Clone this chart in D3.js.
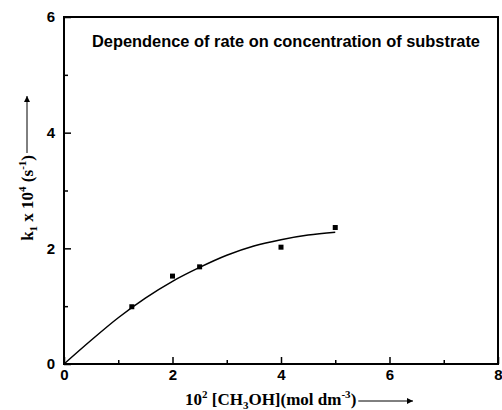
<!DOCTYPE html>
<html>
<head>
<meta charset="utf-8">
<script src="https://cdn.jsdelivr.net/npm/d3@7"></script>
<style>
  body { margin: 0; background: #fff; }
  .tick text { font-family: "Liberation Sans", Arial, sans-serif; font-weight: bold; font-size: 15px; }
</style>
</head>
<body>
<div id="chart"></div>
<script>
// measured points
var concX = [1.25, 2.0, 2.5, 4.0, 5.0];
var rateY = [0.99, 1.52, 1.68, 2.02, 2.36];

// fitted curve
var fitX = [0, 0.5, 1, 1.5, 2, 2.5, 3, 3.5, 4, 4.5, 5];
var fitY = [0, 0.41, 0.80, 1.14, 1.43, 1.67, 1.88, 2.04, 2.15, 2.23, 2.28];

var xTicks = [0, 2, 4, 6, 8];
var yTicks = [0, 2, 4, 6];

var width = 502;
var height = 410;
var margin = {top: 17, right: 4, bottom: 46, left: 64};

var svg = d3.select("#chart")
    .append("svg")
    .attr("width", width)
    .attr("height", height);

var x = d3.scaleLinear().domain([0, 8]).range([margin.left, width - margin.right]);
var y = d3.scaleLinear().domain([0, 6]).range([height - margin.bottom, margin.top]);

// minor ticks
var xMinor = d3.axisBottom(x).tickValues([1, 3, 5, 7]).tickSize(-4).tickFormat("");
var yMinor = d3.axisLeft(y).tickValues([1, 3, 5]).tickSize(-4).tickFormat("");

svg.append("g")
    .attr("transform", "translate(0," + y(0) + ")")
    .call(xMinor)
    .call(function(g) { g.select(".domain").remove(); })
    .selectAll("line").attr("stroke-width", 1.5);

svg.append("g")
    .attr("transform", "translate(" + x(0) + ",0)")
    .call(yMinor)
    .call(function(g) { g.select(".domain").remove(); })
    .selectAll("line").attr("stroke-width", 1.5);

// major ticks
var xAxis = svg.append("g")
    .attr("transform", "translate(0," + y(0) + ")")
    .call(d3.axisBottom(x).tickValues(xTicks).tickSize(-7).tickPadding(5).tickFormat(d3.format("d")));
xAxis.select(".domain").remove();
xAxis.selectAll("line").attr("stroke-width", 1.5);

var yAxis = svg.append("g")
    .attr("transform", "translate(" + x(0) + ",0)")
    .call(d3.axisLeft(y).tickValues(yTicks).tickSize(-7).tickPadding(9).tickFormat(d3.format("d")));
yAxis.select(".domain").remove();
yAxis.selectAll("line").attr("stroke-width", 1.5);

// frame
svg.append("rect")
    .attr("x", x(0))
    .attr("y", y(6))
    .attr("width", x(8) - x(0))
    .attr("height", y(0) - y(6))
    .attr("fill", "none")
    .attr("stroke", "#000")
    .attr("stroke-width", 2);

// fit curve
var line = d3.line()
    .x(function(d, i) { return x(fitX[i]); })
    .y(function(d) { return y(d); })
    .curve(d3.curveCatmullRom);

svg.append("path")
    .datum(fitY)
    .attr("d", line)
    .attr("fill", "none")
    .attr("stroke", "#000")
    .attr("stroke-width", 1.5);

// data points
svg.selectAll(".pt")
    .data(rateY)
    .enter()
    .append("rect")
    .attr("class", "pt")
    .attr("x", function(d, i) { return x(concX[i]) - 2.5; })
    .attr("y", function(d) { return y(d) - 2.5; })
    .attr("width", 5)
    .attr("height", 5)
    .attr("fill", "#000");

// title
svg.append("text")
    .attr("x", 92)
    .attr("y", 47)
    .style("font-family", "Liberation Sans, Arial, sans-serif")
    .style("font-weight", "bold")
    .style("font-size", "16.4px")
    .text("Dependence of rate on concentration of substrate");

// arrow marker
svg.append("defs")
    .append("marker")
    .attr("id", "arrow")
    .attr("viewBox", "0 0 10 10")
    .attr("refX", 10)
    .attr("refY", 5)
    .attr("markerWidth", 9)
    .attr("markerHeight", 6)
    .attr("markerUnits", "userSpaceOnUse")
    .attr("orient", "auto")
    .append("path")
    .attr("d", "M0,0L10,5L0,10z")
    .attr("fill", "#000");

// x label
var xLab = svg.append("text")
    .attr("x", 185)
    .attr("y", 405)
    .style("font-family", "Liberation Serif, Times New Roman, serif")
    .style("font-weight", "bold")
    .style("font-size", "17px");
xLab.append("tspan").text("10");
xLab.append("tspan").attr("dy", -7).style("font-size", "11px").text("2");
xLab.append("tspan").attr("dy", 7).text(" [CH");
xLab.append("tspan").attr("dy", 4).style("font-size", "11px").text("3");
xLab.append("tspan").attr("dy", -4).text("OH](mol dm");
xLab.append("tspan").attr("dy", -7).style("font-size", "11px").text("-3");
xLab.append("tspan").attr("dy", 7).text(")");

var xEnd = 185 + xLab.node().getComputedTextLength();
svg.append("line")
    .attr("x1", xEnd + 2).attr("x2", 413)
    .attr("y1", 401).attr("y2", 401)
    .attr("stroke", "#000")
    .attr("stroke-width", 1)
    .attr("marker-end", "url(#arrow)");

// y label
var yLab = svg.append("text")
    .attr("transform", "translate(33,155) rotate(-90)")
    .attr("text-anchor", "end")
    .style("font-family", "Liberation Serif, Times New Roman, serif")
    .style("font-weight", "bold")
    .style("font-size", "17px");
yLab.append("tspan").text("k");
yLab.append("tspan").attr("dy", 4).style("font-size", "11px").text("1");
yLab.append("tspan").attr("dy", -4).text(" x 10");
yLab.append("tspan").attr("dy", -7).style("font-size", "11px").text("4");
yLab.append("tspan").attr("dy", 7).text(" (s");
yLab.append("tspan").attr("dy", -7).style("font-size", "11px").text("-1");
yLab.append("tspan").attr("dy", 7).text(")");

svg.append("line")
    .attr("x1", 27).attr("x2", 27)
    .attr("y1", 153).attr("y2", 96)
    .attr("stroke", "#000")
    .attr("stroke-width", 1)
    .attr("marker-end", "url(#arrow)");
</script>
</body>
</html>
